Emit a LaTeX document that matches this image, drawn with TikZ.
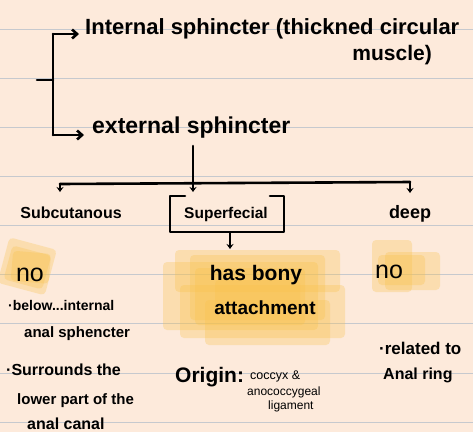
\documentclass[tikz,border=0pt]{standalone}
\usepackage{fontspec}
\setmainfont{Liberation Sans}
\usetikzlibrary{arrows.meta}
\definecolor{paper}{HTML}{FDEADB}
\definecolor{rule}{HTML}{C6C9CE}
\definecolor{hl}{HTML}{F9C24A}
\newcommand\fsb[1]{\fontsize{#1}{#1}\selectfont\bfseries}
\newcommand\fsm[1]{\fontsize{#1}{#1}\selectfont}
\tikzset{
  ink/.style={line width=2.6pt, line cap=round, line join=round, black},
  arr/.style={ink, -{Stealth[length=5pt,width=7pt]}},
  barb/.style={ink, -{Straight Barb[length=5pt,width=9pt]}},
  txt/.style={inner sep=0pt},
  hlbox/.style={fill=hl, opacity=0.3, draw=none, rounded corners=4pt},
}
\begin{document}
\begin{tikzpicture}[x=1pt,y=-1pt]
\useasboundingbox (0,0) rectangle (473,432);
\fill[paper] (0,0) rectangle (473,432);
\foreach \yy in {29,78,127,176,225,274,323,373,422}
  \draw[rule, line width=0.9pt] (0,\yy) -- (473,\yy);

% highlights
\fill[hlbox] (175,250) rectangle (340,292);
\fill[hlbox] (163,262) rectangle (318,330);
\fill[hlbox] (180,285) rectangle (345,338);
\fill[hlbox] (205,300) rectangle (330,345);
\fill[hlbox] (190,255) rectangle (325,320);
\fill[hlbox] (195,268) rectangle (305,325);
\fill[hlbox] (215,280) rectangle (300,310);
\fill[hlbox, rotate around={-15:(28,265)}] (3,243) rectangle (52,290);
\fill[hlbox, rotate around={-15:(28,265)}] (8,250) rectangle (48,285);
\fill[hlbox, rotate around={-5:(28,265)}] (12,252) rectangle (50,282);
\fill[hlbox] (372,240) rectangle (412,292);
\fill[hlbox] (385,252) rectangle (440,290);
\fill[hlbox] (378,255) rectangle (425,285);

% texts
\node[txt, anchor=base west, font=\fsb{22}] (int) at (85,34) {Internal sphincter (thickned circular};
\node[txt, anchor=base east, font=\fsb{21}] (musc) at (432,60) {muscle)};
\node[txt, anchor=base west, font=\fsb{23}] (ext) at (92,133) {external sphincter};

\node[txt, anchor=base, font=\fsb{16}] (sub) at (71,218) {Subcutanous};
\node[txt, anchor=base, font=\fsb{15.5}] (sup) at (226,218) {Superfecial};
\node[txt, anchor=base, font=\fsb{18}] (deep) at (410,218) {deep};

\node[txt, anchor=base, font=\fsm{25}] (no1) at (30,281) {no};
\node[txt, anchor=base, font=\fsm{25}] (no2) at (389,278) {no};
\node[txt, anchor=base, font=\fsb{21}] (bony) at (256,280) {has bony};
\node[txt, anchor=base, font=\fsb{19}] (att) at (265,314) {attachment};

\node[txt, anchor=base west, font=\fsb{14}] (bel) at (8,310) {·below...internal};
\node[txt, anchor=base west, font=\fsb{15}] (bel2) at (24,337) {anal sphencter};
\node[txt, anchor=base west, font=\fsb{16}] (sur) at (6,375) {·Surrounds the};
\node[txt, anchor=base west, font=\fsb{15}] (sur2) at (17,404) {lower part of the};
\node[txt, anchor=base west, font=\fsb{16}] (sur3) at (27,429) {anal canal};

\node[txt, anchor=base west, font=\fsb{21}] (orig) at (175,382) {Origin:};
\node[txt, anchor=base west, font=\fsm{12.5}] (orig2) at (250,379) {coccyx \&};
\node[txt, anchor=base west, font=\fsm{12}] (orig3) at (247,395) {anococcygeal};
\node[txt, anchor=base west, font=\fsm{12}] (orig4) at (268,409) {ligament};

\node[txt, anchor=base west, font=\fsb{17}] (rel) at (379,354) {·related to};
\node[txt, anchor=base west, font=\fsb{16}] (ring) at (383,379) {Anal ring};

% box around superficial
\draw[ink] (185,196) -- (170,196) -- (170,232) -- (284,232) -- (284,196) -- (270,196);

% bracket
\coordinate (bt) at (53,34);
\coordinate (bb) at (53,135);
\coordinate (tick) at (37,80);
\draw[ink] (bt) -- (bb);
\draw[ink] (tick) -- (53,80);
\draw[barb] (bt) -- ([xshift=-6pt]int.west |- bt);
\draw[barb] (bb) -- ([xshift=-8pt]ext.west |- bb);

% tree
\coordinate (j) at (193,182);
\coordinate (jl) at (60,184);
\coordinate (jr) at (410,182);
\draw[ink] (193,146) -- (j);
\draw[ink] (jl) -- (jr);
\draw[arr] (jl) -- (60,192);
\draw[arr] (j) -- (193,192);
\draw[arr] (jr) -- (410,193);
\draw[arr] (230,233) -- (230,249);
\end{tikzpicture}
\end{document}
